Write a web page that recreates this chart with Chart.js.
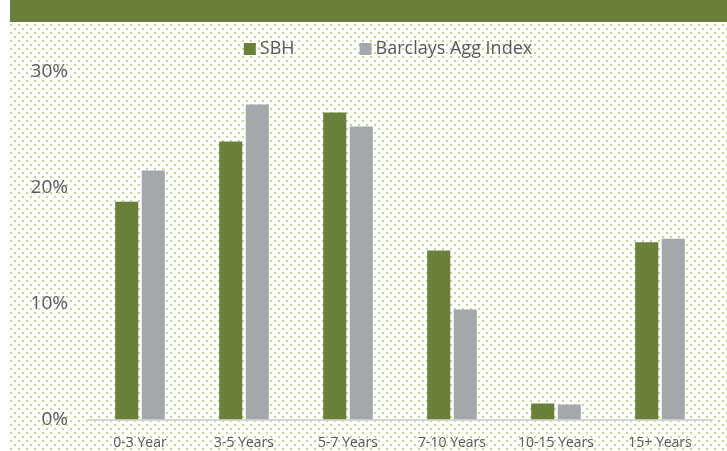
<!DOCTYPE html>
<html>
<head>
<meta charset="utf-8">
<script src="https://cdn.jsdelivr.net/npm/chart.js@4.4.1/dist/chart.umd.min.js"></script>
<style>
  html, body { margin: 0; padding: 0; background: #fff; }
  #wrap { width: 727px; height: 451px; position: relative; }
</style>
</head>
<body>
<div id="wrap"><canvas id="barChart" width="727" height="451"></canvas></div>
<script>
const categories = ['0-3 Year', '3-5 Years', '5-7 Years', '7-10 Years', '10-15 Years', '15+ Years'];
const sbh = [18.8, 24.0, 26.5, 14.6, 1.4, 15.3];
const barclays = [21.5, 27.2, 25.3, 9.5, 1.3, 15.6];
const yTicks = [0, 10, 20, 30];

const green = '#6a7f3a';
const grey = '#a5a8ab';
const textGrey = '#595959';
const fontFamily = '"Open Sans", sans-serif';

// dotted background tile, like the excel pattern fill
const tile = document.createElement('canvas');
tile.width = 8;
tile.height = 8;
const tctx = tile.getContext('2d');
tctx.fillStyle = '#ffffff';
tctx.fillRect(0, 0, 8, 8);
tctx.fillStyle = '#c2d698';
tctx.fillRect(0, 0, 2, 2);
tctx.fillRect(4, 4, 2, 2);

const backdrop = {
  id: 'backdrop',
  beforeDraw(chart) {
    const c = chart.ctx;
    c.save();
    c.fillStyle = '#ffffff';
    c.fillRect(0, 0, chart.width, chart.height);
    c.translate(10, 0);
    c.fillStyle = c.createPattern(tile, 'repeat');
    c.fillRect(0, 0, chart.width - 10, chart.height);
    c.fillStyle = green;
    c.fillRect(0, 0, chart.width - 10, 22);
    c.restore();
  }
};

// excel style legend: small squares, wide gap between entries
const wideLegend = {
  id: 'wideLegend',
  afterDraw(chart) {
    const c = chart.ctx;
    const sets = chart.data.datasets;
    const box = 12, gapText = 4, gapItem = 65, cy = 49;
    c.save();
    c.font = '18px ' + fontFamily;
    c.textBaseline = 'middle';
    const widths = sets.map(ds => box + gapText + c.measureText(ds.label).width);
    const total = widths.reduce((a, b) => a + b, 0) + gapItem * (sets.length - 1);
    let x = (chart.chartArea.left + chart.chartArea.right) / 2 - 12 - total / 2;
    sets.forEach((ds, i) => {
      c.fillStyle = ds.backgroundColor;
      c.fillRect(x, cy - box / 2, box, box);
      c.fillStyle = textGrey;
      c.fillText(ds.label, x + box + gapText, cy);
      x += widths[i] + gapItem;
    });
    c.restore();
  }
};

const ctx = document.getElementById('barChart').getContext('2d');
const chart = new Chart(ctx, {
  type: 'bar',
  data: {
    labels: categories,
    datasets: [
      { label: 'SBH', data: sbh, backgroundColor: green },
      { label: 'Barclays Agg Index', data: barclays, backgroundColor: grey }
    ]
  },
  options: {
    responsive: false,
    animation: false,
    devicePixelRatio: 1,
    categoryPercentage: 0.51,
    barPercentage: 0.87,
    layout: { padding: { left: 10, right: 15, top: 72, bottom: 3 } },
    plugins: {
      tooltip: { enabled: false },
      legend: { display: false }
    },
    scales: {
      x: {
        afterFit(axis) { axis.height = 28; },
        grid: { display: false, drawTicks: false },
        border: { display: true, color: '#d6d6d6', width: 2 },
        ticks: { color: textGrey, font: { family: fontFamily, size: 14 }, padding: 15, maxRotation: 0 }
      },
      y: {
        min: 0,
        max: 30,
        afterFit(axis) { axis.width = 78; },
        afterBuildTicks(axis) { axis.ticks = yTicks.map(v => ({ value: v })); },
        grid: { display: false, drawTicks: false },
        border: { display: false },
        ticks: {
          color: textGrey,
          font: { family: fontFamily, size: 19 },
          padding: 20,
          callback: v => v + '%'
        }
      }
    }
  },
  plugins: [backdrop, wideLegend]
});
</script>
</body>
</html>
